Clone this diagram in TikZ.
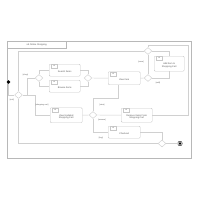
\documentclass[tikz,border=0pt]{standalone}
\usepackage{fontspec}
\setmainfont{Liberation Sans}
\usetikzlibrary{shapes.geometric,calc}
\definecolor{ln}{HTML}{D0D0D0}
\definecolor{bx}{HTML}{C8C8C8}
\definecolor{fr}{HTML}{B8B8B8}
\definecolor{tx}{HTML}{555555}
\begin{document}
\begin{tikzpicture}[x=1mm,y=-1mm,
  font=\fontsize{6.5}{7.5}\selectfont,
  conn/.style={draw=ln,line width=0.45mm},
  actbox/.style={draw=bx,fill=white,rounded corners=1mm,line width=0.4mm,inner sep=0pt,anchor=north west},
  boxtxt/.style={text=tx,align=center,inner sep=0pt,font=\fontsize{6.5}{7.5}\selectfont},
  reftag/.style={draw=bx,fill=white,line width=0.35mm,inner sep=0pt,minimum width=6.5mm,minimum height=4.2mm,anchor=north west,text=tx,font=\fontsize{4.5}{5.5}\selectfont},
  dec/.style={diamond,draw=ln,fill=white,line width=0.45mm,inner sep=0pt,minimum width=8mm,minimum height=7mm},
  guard/.style={text=tx,inner sep=0pt,font=\fontsize{5.5}{6.5}\selectfont}
]
\useasboundingbox (0,0) rectangle (200,200);
% frame
\draw[draw=fr,line width=0.4mm] (7,41) rectangle (191,158);
\node[draw=fr,line width=0.4mm,anchor=north west,minimum width=59mm,minimum height=7mm,inner sep=0pt,text=tx] (hdr) at (7,41) {sd Online Shopping};

% activity boxes
\node[actbox,minimum width=31mm,minimum height=12mm] (search) at (49,64) {};
\node[actbox,minimum width=31mm,minimum height=12mm] (browse) at (49,80) {};
\node[actbox,minimum width=32mm,minimum height=13mm] (viewitem) at (108,71.5) {};
\node[actbox,minimum width=30mm,minimum height=15mm] (additem) at (154,56) {};
\node[actbox,minimum width=32mm,minimum height=15mm] (viewcart) at (50,107.5) {};
\node[actbox,minimum width=31mm,minimum height=14mm] (remove) at (121,108) {};
\node[actbox,minimum width=32mm,minimum height=12mm] (checkout) at (108,126) {};

\foreach \b in {search,browse,viewitem,additem,viewcart,remove,checkout}
  \node[reftag] (\b ref) at ($(\b.north west)+(1.8,0)$) {ref};

\node[boxtxt] (searcht) at ($(search.center)+(0,1.5)$) {Search Items};
\node[boxtxt] (browset) at ($(browse.center)+(0,1.5)$) {Browse Items};
\node[boxtxt] (viewitemt) at ($(viewitem.center)+(0,1.5)$) {View Item};
\node[boxtxt] (additemt) at ($(additem.center)+(0,1.8)$) {Add Item to\\Shopping Cart};
\node[boxtxt] (viewcartt) at ($(viewcart.center)+(0,1.8)$) {View Updated\\Shopping Cart};
\node[boxtxt] (removet) at ($(remove.center)+(0,1.8)$) {Remove Items From\\Shopping Cart};
\node[boxtxt] (checkoutt) at ($(checkout.center)+(0,1.5)$) {Checkout};

% control nodes
\node[circle,fill=black,inner sep=0pt,minimum size=3.6mm] (init) at (8.5,82) {};
\node[dec] (d1) at (18.5,95) {};
\node[dec] (d2) at (39,78) {};
\node[dec] (d3) at (88,78) {};
\node[dec] (d4) at (148,51) {};
\node[dec] (d5) at (148,78) {};
\node[dec] (d6) at (93,115) {};
\node[dec] (d7) at (162,143.5) {};
\node[circle,draw=black,line width=0.35mm,fill=white,inner sep=0pt,minimum size=4.6mm] (final) at (180,143.5) {};
\node[circle,fill=black,inner sep=0pt,minimum size=2.8mm] (finaldot) at (final.center) {};

\coordinate (c1) at (35,95);
\coordinate (c0) at (27.5,95);
\coordinate (c2) at (118,98);
\coordinate (c3) at (188,45);

% connectors
\draw[conn] (init) |- (d1.west);
\draw[conn] (d4.west) -| (d1.north);
\draw[conn] (d1.east) -- (c0) |- (d2.west);
\draw[conn] (c0) -- (c1) |- (viewcart.west);
\draw[conn] (d1.south) |- (d7.west);
\draw[conn] (d2.north) |- (search.west);
\draw[conn] (d2.south) |- (browse.west);
\draw[conn] (search.east) -| (d3.north);
\draw[conn] (browse.east) -| (d3.south);
\draw[conn] (d3.east) -- (viewitem.west);
\draw[conn] (viewitem.east) -- (d5.west);
\draw[conn] (d5.north) -- (d4.south);
\draw[conn] (d5.east) -| (additem.south);
\draw[conn] (additem.north) |- (d4.east);
\draw[conn] (viewcart.east) -- (d6.west);
\draw[conn] (d6.north) |- (c2) -- (c2 |- viewitem.south);
\draw[conn] (d6.east) -- (remove.west);
\draw[conn] (d6.south) |- (checkout.west);
\draw[conn] (remove.east) -| (c3) -| (d4.north);
\draw[conn] (checkout.east) -| (d7.north);
\draw[conn] (d7.east) -- (final.west);

% guards
\node[guard] (g1) at (25.5,74.5) {[shop]};
\node[guard] (g2) at (12,100) {[exit]};
\node[guard] (g3) at (42,105) {[shopping cart]};
\node[guard] (g4) at (141,62) {[more]};
\node[guard] (g5) at (158,82.5) {[add]};
\node[guard] (g6) at (102,105) {[view]};
\node[guard] (g7) at (102,119.5) {[remove]};
\node[guard] (g8) at (101,137.5) {[buy]};
\end{tikzpicture}
\end{document}
